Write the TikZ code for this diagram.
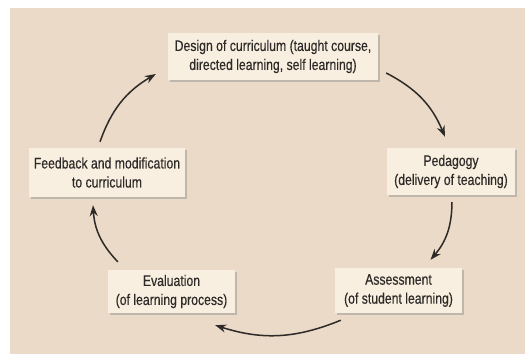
\documentclass[tikz,border=0pt]{standalone}
\usepackage{fontspec}
\setmainfont{Liberation Sans}[FakeStretch=0.8,FakeBold=0.4]
\usetikzlibrary{arrows.meta,shadows}
\definecolor{panel}{RGB}{234,218,199}
\definecolor{boxfill}{RGB}{249,239,224}
\definecolor{ink}{RGB}{45,42,40}
\tikzset{
  stage/.style={fill=boxfill, text=ink, align=center, inner sep=0pt,
    font=\fontsize{15.3}{19}\selectfont,
    drop shadow={shadow xshift=1.5pt, shadow yshift=-2pt, fill=black!45, opacity=0.45}},
  cyc/.style={draw=ink, line width=1.5pt, -{Stealth[length=11pt,width=8pt]}, bend left=20}
}
\begin{document}
\begin{tikzpicture}[x=1pt,y=-1pt]
    \useasboundingbox (0,0) rectangle (525,354);
    \fill[white] (0,0) rectangle (525,354);
    \fill[panel] (10,8) rectangle (525,354);
    \node [stage, minimum width=210pt, minimum height=47pt] (design) at (273,56.5)
      {Design of curriculum (taught course,\\ directed learning, self learning)};
    \node [stage, minimum width=128pt, minimum height=47pt] (pedagogy) at (451,171.5)
      {Pedagogy\\ (delivery of teaching)};
    \node [stage, minimum width=127pt, minimum height=45pt] (assessment) at (398.5,290.5)
      {Assessment\\ (of student learning)};
    \node [stage, minimum width=127pt, minimum height=43pt] (evaluation) at (171.5,291.5)
      {Evaluation\\ (of learning process)};
    \node [stage, minimum width=156pt, minimum height=49pt] (feedback) at (107,172.5)
      {Feedback and modification\\ to curriculum};
    \draw [cyc] ([shift={(8,16.5)}]design.east) to ([shift={(-6,-11)}]pedagogy.north);
    \draw [cyc] ([shift={(1,7)}]pedagogy.south) to ([shift={(32,-8)}]assessment.north);
    \draw [cyc] ([shift={(6,7)}]assessment.south west) to ([shift={(-20,12)}]evaluation.south east);
    \draw [cyc] ([shift={(10,-8)}]evaluation.north west) to ([shift={(-14,8)}]feedback.south);
    \draw [cyc] ([shift={(-7,-6)}]feedback.north) to ([shift={(-12,17.5)}]design.west);
  \end{tikzpicture}
\end{document}
